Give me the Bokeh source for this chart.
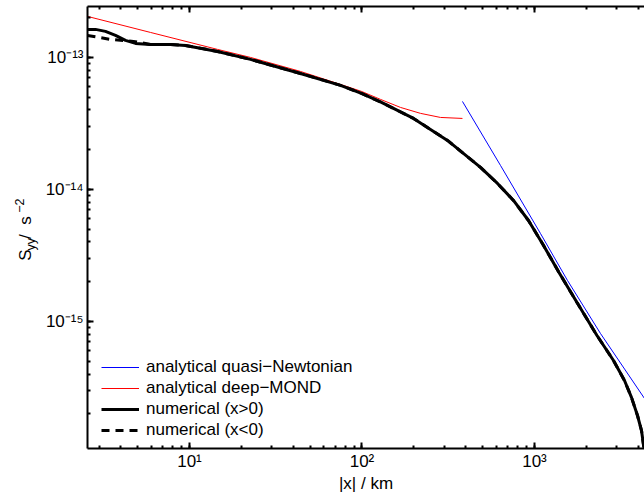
from bokeh.plotting import figure
from bokeh.layouts import row
from bokeh.models import (LogAxis, LogTicker, CustomJSTickFormatter,
                          Legend, LegendItem, Range1d)
from bokeh.core.properties import value
from bokeh.embed import file_html
from bokeh.resources import INLINE

FONT = "Liberation Sans"

# axis limits
X_MIN, X_MAX = 2.563, 4343.0
Y_MIN, Y_MAX = 1.091e-16, 2.43e-13

# numerical solution, x > 0
num_pos_x = [2.563, 2.851, 3.258, 3.724, 4.256, 4.864, 5.94, 7.76, 9.48, 14.53,
             22.57, 44.0, 75.1, 99.3, 128.0, 198.9, 313.1, 486.4, 610.4, 755.4,
             923.0, 1120, 1387, 1764, 2303, 2871, 3325, 3650, 3955, 4173, 4314,
             4401]
num_pos_y = [1.630e-13, 1.630e-13, 1.574e-13, 1.468e-13, 1.345e-13, 1.277e-13,
             1.254e-13, 1.254e-13, 1.233e-13, 1.110e-13, 9.66e-14, 7.56e-14,
             6.14e-14, 5.34e-14, 4.60e-14, 3.45e-14, 2.35e-14, 1.468e-14,
             1.110e-14, 8.25e-15, 5.82e-15, 3.83e-15, 2.35e-15, 1.393e-15,
             7.83e-16, 5.06e-16, 3.57e-16, 2.66e-16, 1.94e-16, 1.493e-16,
             1.091e-16, 8.85e-17]

# numerical solution, x < 0
num_neg_x = [2.563, 3.483, 4.736, 5.94, 7.76, 9.48, 14.53,
             22.57, 44.0, 75.1, 99.3, 128.0, 198.9, 313.1, 486.4, 610.4, 755.4,
             923.0, 1120, 1387, 1764, 2303, 2871, 3325, 3650, 3955, 4173, 4314,
             4401]
num_neg_y = [1.468e-13, 1.369e-13, 1.322e-13, 1.254e-13, 1.254e-13, 1.233e-13,
             1.110e-13, 9.66e-14, 7.56e-14, 6.14e-14, 5.34e-14, 4.60e-14,
             3.45e-14, 2.35e-14, 1.468e-14, 1.110e-14, 8.25e-15, 5.82e-15,
             3.83e-15, 2.35e-15, 1.393e-15, 7.83e-16, 5.06e-16, 3.57e-16,
             2.66e-16, 1.94e-16, 1.493e-16, 1.091e-16, 8.85e-17]

# analytical deep-MOND
mond_x = [2.563, 5.94, 14.53, 22.57, 44.0, 75.1, 99.3, 128.0, 167.2, 218.3,
          285.2, 382.4]
mond_y = [2.044e-13, 1.546e-13, 1.150e-13, 1.0e-13, 7.83e-14, 6.24e-14,
          5.53e-14, 4.81e-14, 4.18e-14, 3.77e-14, 3.51e-14, 3.45e-14]

# analytical quasi-Newtonian
newt_x = [382.4, 635.3, 1083, 1554, 2413, 4343]
newt_y = [4.64e-14, 1.52e-14, 4.64e-15, 2.044e-15, 8.11e-16, 2.61e-16]

legend_labels = ["analytical quasi\u2212Newtonian", "analytical deep\u2212MOND",
                 "numerical (x>0)", "numerical (x<0)"]

# y-axis label pieces: S_yy / s^-2
ylab_big = ["S", "/", "s"]
ylab_small = ["yy", "\u22122"]

LEFT_W = 42
W, H = 644, 497

p = figure(width=W - LEFT_W, height=H, x_axis_type="log", y_axis_type="log",
           x_range=Range1d(X_MIN, X_MAX), y_range=Range1d(Y_MIN, Y_MAX),
           output_backend="svg", toolbar_location=None,
           min_border_left=87 - LEFT_W, min_border_right=0, min_border_top=6,
           min_border_bottom=49)
p.outline_line_color = None
p.xgrid.visible = False
p.ygrid.visible = False
p.background_fill_color = "white"
p.border_fill_color = "white"

bottom = p.below[0]
left = p.left[0]

fmt_code = r"""
const sup = {"-":"\u207b","0":"\u2070","1":"\u00b9","2":"\u00b2","3":"\u00b3",
             "4":"\u2074","5":"\u2075","6":"\u2076","7":"\u2077","8":"\u2078","9":"\u2079"};
const e = Math.round(Math.log10(tick));
let s = "";
for (const c of String(e)) s += sup[c];
return "10" + s;
"""

top = LogAxis(major_label_text_font_size="1px", major_label_standoff=0,
              major_label_text_alpha=0,
              formatter=CustomJSTickFormatter(code="return ' ';"))
p.add_layout(top, "above")

for ax in [bottom, left, top]:
    ax.ticker = LogTicker(num_minor_ticks=10)
    ax.axis_line_width = 2
    ax.axis_line_color = "black"
    ax.major_tick_in = 6
    ax.major_tick_out = 0
    ax.minor_tick_in = 3
    ax.minor_tick_out = 0
    ax.major_tick_line_width = 2
    ax.minor_tick_line_width = 2
    ax.major_tick_line_color = "black"
    ax.minor_tick_line_color = "black"

for ax in [bottom, left]:
    ax.formatter = CustomJSTickFormatter(code=fmt_code)
    ax.major_label_text_font = FONT
    ax.major_label_text_font_size = "17px"
    ax.major_label_text_color = "black"

bottom.major_label_standoff = 3
left.major_label_standoff = 4
bottom.axis_label = "|x| / km"
bottom.axis_label_text_font = FONT
bottom.axis_label_text_font_size = "17px"
bottom.axis_label_text_font_style = "normal"
bottom.axis_label_text_color = "black"
bottom.axis_label_standoff = 0

r_newt = p.line(newt_x, newt_y, line_color="#0000ff", line_width=1)
r_mond = p.line(mond_x, mond_y, line_color="#ff0000", line_width=1)
r_pos = p.line(num_pos_x, num_pos_y, line_color="black", line_width=3)
r_neg = p.line(num_neg_x, num_neg_y, line_color="black", line_width=3,
               line_dash="8 6")

legend = Legend(items=[LegendItem(label=legend_labels[0], renderers=[r_newt]),
                       LegendItem(label=legend_labels[1], renderers=[r_mond]),
                       LegendItem(label=legend_labels[2], renderers=[r_pos]),
                       LegendItem(label=legend_labels[3], renderers=[r_neg])],
                location=(14, 8), glyph_width=38, glyph_height=20,
                label_height=20, label_standoff=7, spacing=1, padding=0,
                margin=0, label_text_font=FONT, label_text_font_size="17px",
                label_text_color="black",
                border_line_alpha=0, background_fill_alpha=0)
p.add_layout(legend, "center")

# narrow panel holding the rotated y-axis label (canvas pixel coordinates)
q = figure(width=LEFT_W, height=H, x_range=Range1d(0, LEFT_W),
           y_range=Range1d(0, H), output_backend="svg", toolbar_location=None,
           x_axis_location=None, y_axis_location=None, min_border=0)
q.outline_line_color = None
q.xgrid.visible = False
q.ygrid.visible = False
q.background_fill_color = "white"
q.border_fill_color = "white"
q.text(x=[25, 25, 25], y=[H - 286, H - 261.5, H - 245.5], text=ylab_big,
       angle=1.5707963, text_font=value(FONT), text_font_size="17px",
       text_baseline="alphabetic", text_align="left", text_color="black")
q.text(x=[30.5, 19], y=[H - 274.5, H - 232], text=ylab_small,
       angle=1.5707963, text_font=value(FONT), text_font_size="12.5px",
       text_baseline="alphabetic", text_align="left", text_color="black")

layout = row(q, p, spacing=0)
open("out.html", "w").write(file_html(layout, INLINE))
